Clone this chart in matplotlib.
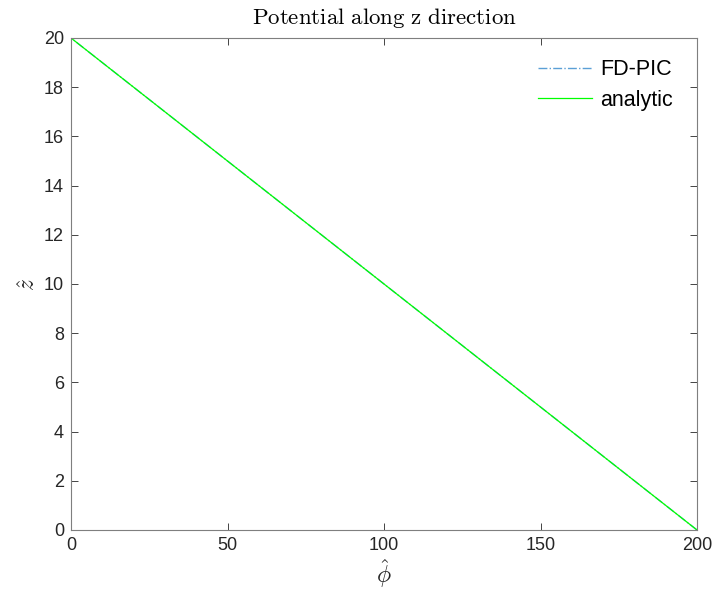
import matplotlib.pyplot as plt

# potential profile along z
z_pic = [0, 2, 4, 6, 8, 10, 12, 14, 16, 18, 20]
phi_pic = [200, 180, 160, 140, 120, 100, 80, 60, 40, 20, 0]
z_ana = [0, 20]
phi_ana = [200, 0]

plt.rcParams['font.family'] = ['Liberation Sans', 'DejaVu Sans']
plt.rcParams['mathtext.fontset'] = 'cm'

fig = plt.figure(figsize=(7.15, 5.9), dpi=100)
ax = fig.add_axes([71 / 715, 60 / 590, 626 / 715, 492 / 590])

ax.plot(phi_pic, z_pic, '-.', color='#5b9fd6', lw=1.0, label='FD-PIC')
ax.plot(phi_ana, z_ana, '-', color='#00ff00', lw=0.9, label='analytic')

ax.set_xlim(0, 200)
ax.set_ylim(0, 20)
ax.set_xticks(range(0, 201, 50))
ax.set_yticks(range(0, 21, 2))
ax.tick_params(direction='in', top=True, right=True, length=5, width=0.6,
               labelsize=13, colors='#262626', pad=5)
for s in ax.spines.values():
    s.set_color('#7f7f7f')
    s.set_linewidth(0.8)

ax.set_xlabel(r'$\hat{\phi}$', fontsize=17, color='#262626', labelpad=2)
ax.set_ylabel(r'$\hat{z}$', fontsize=17, color='#262626', labelpad=3)
ax.set_title(r'$\mathrm{Potential\ along\ z\ direction}$', fontsize=16.5, pad=10)

ax.legend(loc='upper right', frameon=False, fontsize=15.5, handlelength=2.55,
          handletextpad=0.37, labelspacing=0.45, borderaxespad=0, borderpad=0,
          bbox_to_anchor=(0.962, 0.957))

fig.savefig('out.png', dpi=100)
